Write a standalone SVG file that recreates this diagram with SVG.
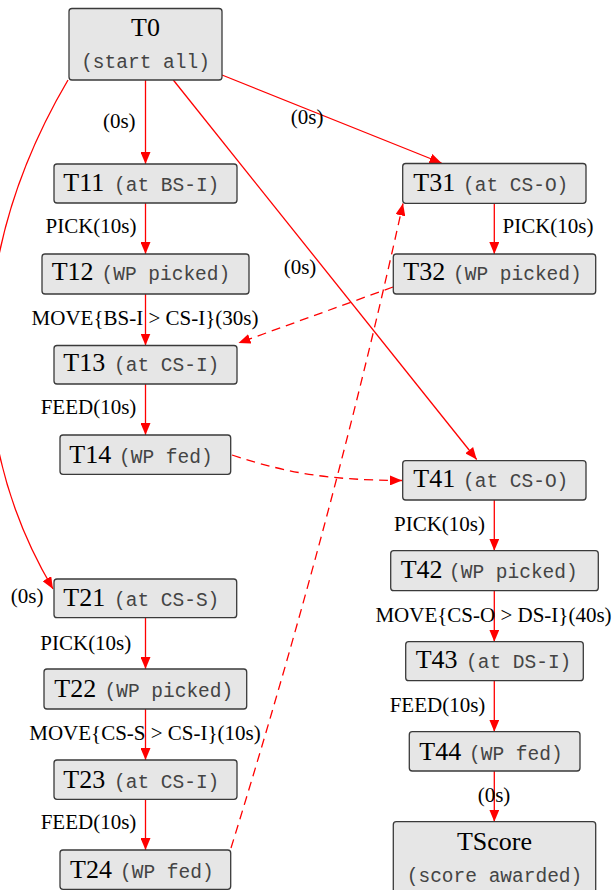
<svg xmlns="http://www.w3.org/2000/svg" width="614" height="890" viewBox="0 0 614 890">
  <style>
    .box { fill: #e6e6e6; stroke: #3a3a3a; stroke-width: 1.3; }
    .nm { font-family: "Liberation Serif", "Times New Roman", serif; font-size: 26px; fill: #000; }
    .mono { font-family: "Liberation Mono", "Courier New", monospace; font-size: 19.5px; fill: #444; }
    .lbl { font-family: "Liberation Serif", "Times New Roman", serif; font-size: 21px; fill: #000; text-anchor: middle; }
    .e { fill: none; stroke: #ff0000; stroke-width: 1.3; marker-end: url(#arrow); }
    .d { stroke-dasharray: 9 6; }
  </style>
  <defs>
    <marker id="arrow" markerUnits="userSpaceOnUse" viewBox="0 0 12 10" refX="12" refY="5" markerWidth="12" markerHeight="10" orient="auto">
      <path d="M0,0 L12,5 L0,10 z" fill="#ff0000"/>
    </marker>
  </defs>

  <!-- connectors -->
  <g id="edges">
    <path class="e" d="M145.5,80 L145.5,164"/>
    <path class="e" d="M222,75 L441.5,163"/>
    <path class="e" d="M173.3,80 L476.7,459.5"/>
    <path class="e" d="M68,80 C-35,255 -35,440 53,589"/>
    <path class="e" d="M145.5,203 L145.5,254"/>
    <path class="e" d="M145.5,294 L145.5,345.5"/>
    <path class="e" d="M145.5,384 L145.5,435"/>
    <path class="e" d="M494.3,203 L494.3,254"/>
    <path class="e" d="M494.3,500 L494.3,550.7"/>
    <path class="e" d="M494.3,591 L494.3,641.7"/>
    <path class="e" d="M494.3,681 L494.3,731.7"/>
    <path class="e" d="M494.3,771 L494.3,821.7"/>
    <path class="e" d="M145.5,618 L145.5,669"/>
    <path class="e" d="M145.5,709 L145.5,760"/>
    <path class="e" d="M145.5,799.5 L145.5,850"/>
    <path class="e d" d="M393,287 L238.5,343"/>
    <path class="e d" d="M232,455 C290,474 330,480 402,480.5"/>
    <path class="e d" d="M231,848 Q334.5,514 403,203.5"/>

    <text class="lbl" x="119.3" y="127.7">(0s)</text>
    <text class="lbl" x="307.2" y="124">(0s)</text>
    <text class="lbl" x="300" y="274.3">(0s)</text>
    <text class="lbl" x="27.2" y="603.3">(0s)</text>
    <text class="lbl" x="91" y="233">PICK(10s)</text>
    <text class="lbl" x="145" y="325">MOVE{BS-I &gt; CS-I}(30s)</text>
    <text class="lbl" x="88.5" y="414">FEED(10s)</text>
    <text class="lbl" x="548" y="233">PICK(10s)</text>
    <text class="lbl" x="439.5" y="531">PICK(10s)</text>
    <text class="lbl" x="493.5" y="622">MOVE{CS-O &gt; DS-I}(40s)</text>
    <text class="lbl" x="437.5" y="711.7">FEED(10s)</text>
    <text class="lbl" x="494" y="801.7">(0s)</text>
    <text class="lbl" x="85.8" y="650">PICK(10s)</text>
    <text class="lbl" x="145" y="740">MOVE{CS-S &gt; CS-I}(10s)</text>
    <text class="lbl" x="88.5" y="829">FEED(10s)</text>
  </g>

  <!-- nodes -->
  <g id="T0">
    <rect class="box" x="69" y="8.5" width="153" height="71.5" rx="3"/>
    <text class="nm" x="145.5" y="36" text-anchor="middle">T0</text>
    <text class="mono" x="145.5" y="68" text-anchor="middle">(start all)</text>
  </g>
  <g id="T11">
    <rect class="box" x="54" y="164" width="183" height="39" rx="3"/>
    <text class="nm" x="63.3" y="191">T11</text>
    <text class="mono" x="114" y="191">(at BS-I)</text>
  </g>
  <g id="T12">
    <rect class="box" x="42" y="254" width="207" height="40" rx="3"/>
    <text class="nm" x="51.7" y="280">T12</text>
    <text class="mono" x="101.5" y="280">(WP picked)</text>
  </g>
  <g id="T13">
    <rect class="box" x="54" y="345.5" width="183" height="38.5" rx="3"/>
    <text class="nm" x="63.3" y="371">T13</text>
    <text class="mono" x="114" y="371">(at CS-I)</text>
  </g>
  <g id="T14">
    <rect class="box" x="60" y="435" width="170.7" height="39.3" rx="3"/>
    <text class="nm" x="69.3" y="463.3">T14</text>
    <text class="mono" x="119" y="463.3">(WP fed)</text>
  </g>
  <g id="T31">
    <rect class="box" x="402.7" y="163.5" width="183.3" height="39.8" rx="3"/>
    <text class="nm" x="413.3" y="191">T31</text>
    <text class="mono" x="463" y="191">(at CS-O)</text>
  </g>
  <g id="T32">
    <rect class="box" x="393.3" y="254" width="202.4" height="40" rx="3"/>
    <text class="nm" x="403.3" y="280">T32</text>
    <text class="mono" x="453" y="280">(WP picked)</text>
  </g>
  <g id="T41">
    <rect class="box" x="402.7" y="460.7" width="183.3" height="39.3" rx="3"/>
    <text class="nm" x="413.3" y="487.3">T41</text>
    <text class="mono" x="463" y="487.3">(at CS-O)</text>
  </g>
  <g id="T42">
    <rect class="box" x="390.7" y="550.7" width="207.6" height="40" rx="3"/>
    <text class="nm" x="400.7" y="578.3">T42</text>
    <text class="mono" x="449" y="578.3">(WP picked)</text>
  </g>
  <g id="T43">
    <rect class="box" x="405.7" y="641.7" width="177.6" height="39" rx="3"/>
    <text class="nm" x="415.7" y="668.3">T43</text>
    <text class="mono" x="466" y="668.3">(at DS-I)</text>
  </g>
  <g id="T44">
    <rect class="box" x="409.3" y="731.7" width="170.7" height="39.3" rx="3"/>
    <text class="nm" x="419.3" y="760">T44</text>
    <text class="mono" x="469" y="760">(WP fed)</text>
  </g>
  <g id="TScore">
    <rect class="box" x="393.3" y="821.7" width="202.4" height="80" rx="3"/>
    <text class="nm" x="494.5" y="850" text-anchor="middle">TScore</text>
    <text class="mono" x="494.5" y="881.7" text-anchor="middle">(score awarded)</text>
  </g>
  <g id="T21">
    <rect class="box" x="54" y="579" width="182.7" height="38.7" rx="3"/>
    <text class="nm" x="63.3" y="605.7">T21</text>
    <text class="mono" x="114" y="605.7">(at CS-S)</text>
  </g>
  <g id="T22">
    <rect class="box" x="44" y="669" width="202.7" height="40" rx="3"/>
    <text class="nm" x="54.3" y="696.7">T22</text>
    <text class="mono" x="104.5" y="696.7">(WP picked)</text>
  </g>
  <g id="T23">
    <rect class="box" x="54" y="760" width="183" height="39.3" rx="3"/>
    <text class="nm" x="63.3" y="788.3">T23</text>
    <text class="mono" x="114" y="788.3">(at CS-I)</text>
  </g>
  <g id="T24">
    <rect class="box" x="60" y="850" width="170.7" height="39.3" rx="3"/>
    <text class="nm" x="70" y="878.3">T24</text>
    <text class="mono" x="120" y="878.3">(WP fed)</text>
  </g>
</svg>
